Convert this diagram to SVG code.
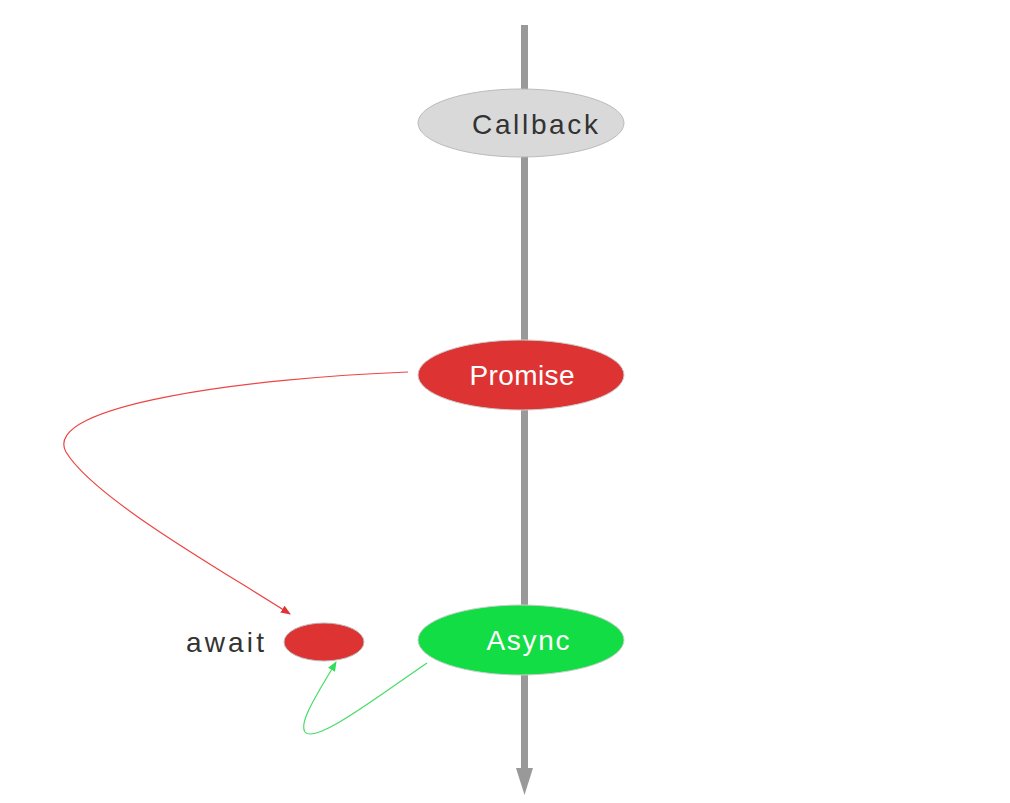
<svg xmlns="http://www.w3.org/2000/svg" width="1010" height="803" viewBox="0 0 1010 803">
<defs>
<style>
.lbl{font-family:"Liberation Sans","DejaVu Sans",sans-serif;font-size:28px;text-anchor:middle}
</style>
<marker id="ar" markerWidth="10" markerHeight="8" refX="9" refY="4" orient="auto" markerUnits="userSpaceOnUse"><path d="M0,0 L10,4 L0,8 Z" fill="#e03333"/></marker>
<marker id="ag" markerWidth="10" markerHeight="8" refX="9" refY="4" orient="auto" markerUnits="userSpaceOnUse"><path d="M0,0 L10,4 L0,8 Z" fill="#33dd55"/></marker>
</defs>
<rect width="1010" height="803" fill="#fff"/>
<g id="connectors">
<line x1="524.5" y1="25" x2="524.5" y2="770" stroke="#999" stroke-width="7"/>
<path d="M516,768 L533,768 L524.5,795 Z" fill="#999"/>
<path d="M408,372 C 250,378 40,405 66,452 C 95,500 230,575 290,614" fill="none" stroke="#ee4444" stroke-width="1.2" marker-end="url(#ar)"/>
<path d="M427,663 C 380,695 315,745 305,732 C 298,722 320,690 336,662" fill="none" stroke="#44dd66" stroke-width="1.2" marker-end="url(#ag)"/>
</g>
<g id="callback">
<ellipse cx="521" cy="123" rx="103" ry="34" fill="#d9d9d9" stroke="#bbb" stroke-width="1"/>
<text class="lbl" x="535" y="134" fill="#333" textLength="126" lengthAdjust="spacing">Callback</text>
</g>
<g id="promise">
<ellipse cx="521" cy="375" rx="103" ry="35" fill="#de3333" stroke="#ccc" stroke-width="1"/>
<text class="lbl" x="522" y="385" fill="#fff" textLength="105" lengthAdjust="spacing">Promise</text>
</g>
<g id="async">
<ellipse cx="521" cy="640" rx="103" ry="35" fill="#12dd44" stroke="#ccc" stroke-width="1"/>
<text class="lbl" x="528" y="650" fill="#fff" textLength="83" lengthAdjust="spacing">Async</text>
</g>
<g id="await">
<ellipse cx="324" cy="642" rx="40" ry="19" fill="#de3333" stroke="#bbb" stroke-width="1"/>
<text class="lbl" x="225" y="652" fill="#333" textLength="78" lengthAdjust="spacing">await</text>
</g>
</svg>
